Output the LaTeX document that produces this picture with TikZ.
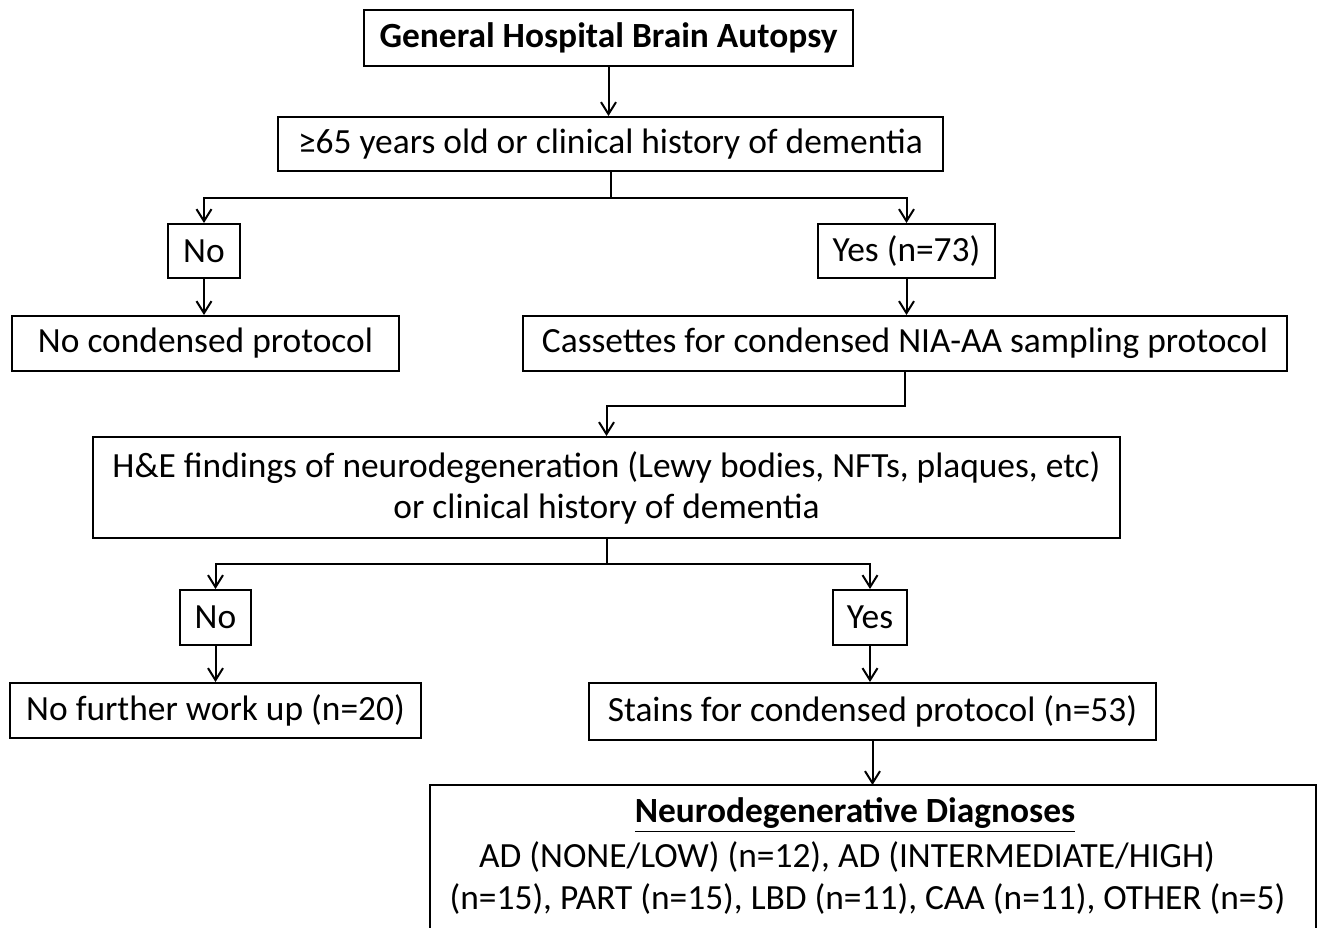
\documentclass[tikz,border=0pt]{standalone}
\usepackage{fontspec}
\setmainfont{Carlito}
\usetikzlibrary{arrows.meta}

\begin{document}
\begin{tikzpicture}[x=0.5pt,y=-0.5pt,
	box/.style={draw,line width=1pt,inner sep=0pt,align=center,
		font=\fontsize{17.7}{20.5}\selectfont},
	diagtext/.style={inner sep=0pt,font=\fontsize{17.7}{20.5}\selectfont},
	arr/.style={-{Straight Barb[length=6pt,width=7.5pt]},line width=1pt}]
	% frame
	\useasboundingbox (0,0) rectangle (1320,927);
	\clip (0,0) rectangle (1320,927);
	
	% boxes
	\node[box,minimum width=244.5pt,minimum height=28pt,font=\fontsize{17.7}{20.5}\selectfont\bfseries] (autopsy) at (608.5,38) {General Hospital Brain Autopsy};
	\node[box,minimum width=332.5pt,minimum height=27pt] (criteria) at (610.5,144) {≥65 years old or clinical history of dementia};
	
	\node[box,minimum width=36pt,minimum height=27pt] (noA) at (204,251) {No};
	\node[box,minimum width=88.5pt,minimum height=27pt] (yesA) at (906.5,251) {Yes (n=73)};
	
	\node[box,minimum width=193.5pt,minimum height=27.5pt] (nocond) at (205.5,343.5) {No condensed protocol};
	\node[box,minimum width=382pt,minimum height=27.5pt] (cassettes) at (905,343.5) {Cassettes for condensed NIA-AA sampling protocol};
	
	\node[box,minimum width=513.5pt,minimum height=50.5pt] (hne) at (606.5,487.5) {H\&E findings of neurodegeneration (Lewy bodies, NFTs, plaques, etc)\\or clinical history of dementia};
	
	\node[box,minimum width=35.5pt,minimum height=27.5pt] (noB) at (215.5,617.5) {No};
	\node[box,minimum width=37pt,minimum height=27.5pt] (yesB) at (870,617.5) {Yes};
	
	\node[box,minimum width=205.5pt,minimum height=27.5pt] (nofurther) at (215.5,710.5) {No further work up (n=20)};
	\node[box,minimum width=283.5pt,minimum height=28.5pt] (stains) at (872.5,711.5) {Stains for condensed protocol (n=53)};
	
	% diagnoses, cut off at the bottom
	\draw[line width=1pt] (430,1000) |- (1316,785) -- (1316,1000);
	\node[diagtext,font=\fontsize{17.7}{20.5}\selectfont\bfseries] (diagtitle) at (855,815) {\underline{Neurodegenerative Diagnoses}};
	\node[diagtext] (diagA) at (847,857) {AD (NONE/LOW) (n=12), AD (INTERMEDIATE/HIGH)};
	\node[diagtext] (diagB) at (867.5,899) {(n=15), PART (n=15), LBD (n=11), CAA (n=11), OTHER (n=5)};
	\coordinate (diag) at (872.5,785);
	
	% arrows
	\draw[arr] (autopsy.south) -- (autopsy.south |- criteria.north);
	\draw[arr] (criteria.south) -- ++(0,26) -| (noA);
	\draw[arr] (criteria.south) -- ++(0,26) -| (yesA);
	\draw[arr] (noA.south) -- (noA.south |- nocond.north);
	\draw[arr] (yesA.south) -- (yesA.south |- cassettes.north);
	\draw[arr] (cassettes.south) -- ++(0,34) -| (hne);
	\draw[arr] (hne.south) -- ++(0,25) -| (noB);
	\draw[arr] (hne.south) -- ++(0,25) -| (yesB);
	\draw[arr] (noB.south) -- (noB.south |- nofurther.north);
	\draw[arr] (yesB.south) -- (yesB.south |- stains.north);
	\draw[arr] (stains.south) -- (diag);
\end{tikzpicture}
\end{document}
